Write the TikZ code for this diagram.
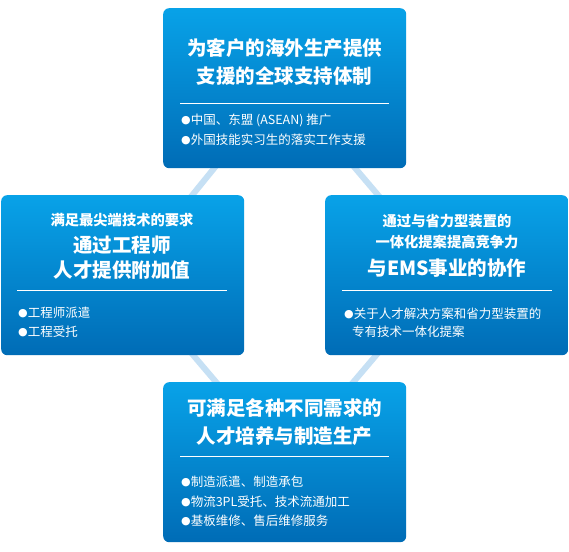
\documentclass[tikz,border=0pt]{standalone}
\usepackage{fontspec}
\setmainfont{Noto Sans CJK SC}
\newfontfamily\djfont{DejaVu Sans}
\usetikzlibrary{backgrounds}
\definecolor{boxtop}{RGB}{8,162,232}
\definecolor{boxbot}{RGB}{0,108,182}
\definecolor{linkc}{RGB}{198,224,244}
\newcommand\mybullet{\raisebox{0.8pt}{\djfont\fontsize{11}{11}\selectfont ●}}
\begin{document}
\begin{tikzpicture}[x=1pt,y=1pt,
  box/.style={rounded corners=6pt, top color=boxtop, bottom color=boxbot, draw=none,
    minimum width=243pt, minimum height=160pt, inner sep=0pt, anchor=north west},
  link/.style={draw=linkc, line width=6pt, shorten <=-14pt, shorten >=-14pt},
  title/.style={text=white, font=\fontsize{19.5}{24}\selectfont\bfseries, inner sep=0pt},
  sub/.style={text=white, font=\fontsize{14.3}{17}\selectfont\bfseries, inner sep=0pt},
  item/.style={text=white, font=\fontsize{12.5}{15}\selectfont, inner sep=0pt, anchor=west},
  sepline/.style={draw=white, line width=1pt}]
\useasboundingbox (0,0) rectangle (569,551);
% boxes
\node[box] (top) at (163,543) {};
\node[box] (left) at (1,356) {};
\node[box] (right) at (325,356) {};
\node[box] (bottom) at (163,169) {};
% links behind
\begin{scope}[on background layer]
\fill[white] (0,0) rectangle (569,551);
\draw[link] ([xshift=51pt]top.south west) -- ([xshift=-52pt]left.north east);
\draw[link] ([xshift=-51pt]top.south east) -- ([xshift=53pt]right.north west);
\draw[link] ([xshift=-51pt]left.south east) -- ([xshift=53pt]bottom.north west);
\draw[link] ([xshift=51pt]right.south west) -- ([xshift=-53pt]bottom.north east);
\end{scope}
% top box
\node[title] (t1) at (284.5,503) {为客户的海外生产提供};
\node[title] (t2) at (284.5,475) {支援的全球支持体制};
\draw[sepline] (180,447) -- (389,447);
\node[item] (t3) at (181,431) {\mybullet 中国、东盟 (ASEAN) 推广};
\node[item] (t4) at (181,411) {\mybullet 外国技能实习生的落实工作支援};
% left box
\node[sub] (l1) at (122,331) {满足最尖端技术的要求};
\node[title] (l2) at (122,306) {通过工程师};
\node[title] (l3) at (122,281) {人才提供附加值};
\draw[sepline] (17,260) -- (227,260);
\node[item] (l4) at (18,238) {\mybullet 工程师派遣};
\node[item] (l5) at (18,219) {\mybullet 工程受托};
% right box
\node[sub] (r1) at (447,330) {通过与省力型装置的};
\node[sub] (r2) at (447,309) {一体化提案提高竞争力};
\node[title] (r3) at (447,283) {与EMS事业的协作};
\draw[sepline] (342,260) -- (552,260);
\node[item] (r4) at (344,237) {\mybullet 关于人才解决方案和省力型装置的};
\node[item] (r5) at (352,219) {专有技术一体化提案};
% bottom box
\node[title] (b1) at (284.5,143) {可满足各种不同需求的};
\node[title] (b2) at (284.5,115) {人才培养与制造生产};
\draw[sepline] (180,95) -- (389,95);
\node[item] (b3) at (181,69) {\mybullet 制造派遣、制造承包};
\node[item] (b4) at (181,49) {\mybullet 物流3PL受托、技术流通加工};
\node[item] (b5) at (181,30) {\mybullet 基板维修、售后维修服务};
\end{tikzpicture}
\end{document}
